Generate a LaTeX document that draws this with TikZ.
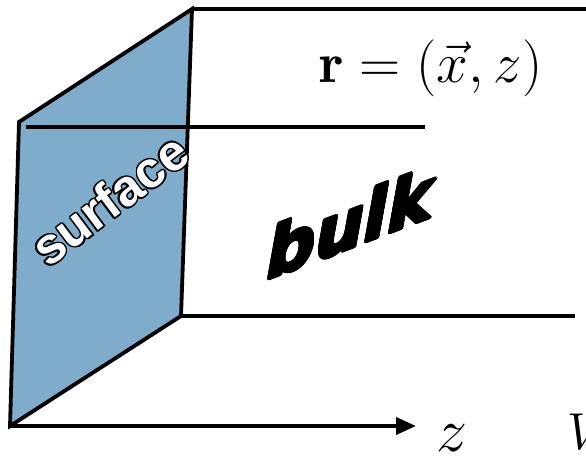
\RequirePackage{fix-cm}
\documentclass[tikz,border=0pt]{standalone}
\usepackage{fontspec}
\usepackage{contour}
\usetikzlibrary{arrows.meta}
\newfontfamily\surffont{Liberation Sans}
\newfontfamily\bulkfont{DejaVu Sans}
\definecolor{surfblue}{RGB}{127,172,203}
\contourlength{1.5pt}
\begin{document}
\begin{tikzpicture}[x=1pt,y=-1pt,line width=3.8pt]
\useasboundingbox (0,0) rectangle (586,463);
\coordinate (tl) at (19,122);
\coordinate (tr) at (192,9);
\coordinate (br) at (181,316);
\coordinate (bl) at (10,426);
\fill[surfblue] (tl) -- (tr) -- (br) -- (bl) -- cycle;
\draw (tr) -- (590,9);
\draw (26,127) -- (425,127);
\draw (br) -- (575,316);
\draw[line join=miter] (tl) -- (tr) -- (br) -- (bl) -- cycle;
\draw[-{Triangle[length=20pt,width=17pt]}] (bl) -- (416,426);
\node at (452,438) {\fontsize{62}{62}\selectfont$z$};
\node[anchor=west] at (562,432) {\fontsize{52}{52}\selectfont$V$};
\node at (431,68) {\fontsize{57}{57}\selectfont$\mathbf{r}=(\vec{x},z)$};
\node[text=white,rotate=37] at (110,200)
  {\surffont\bfseries\fontsize{51}{51}\selectfont\contour{black}{surface}};
\node[yslant=0.38] at (350,224)
  {\bulkfont\bfseries\itshape\fontsize{68}{68}\selectfont\contourlength{1.6pt}\contour{black}{bulk}};
\end{tikzpicture}
\end{document}
